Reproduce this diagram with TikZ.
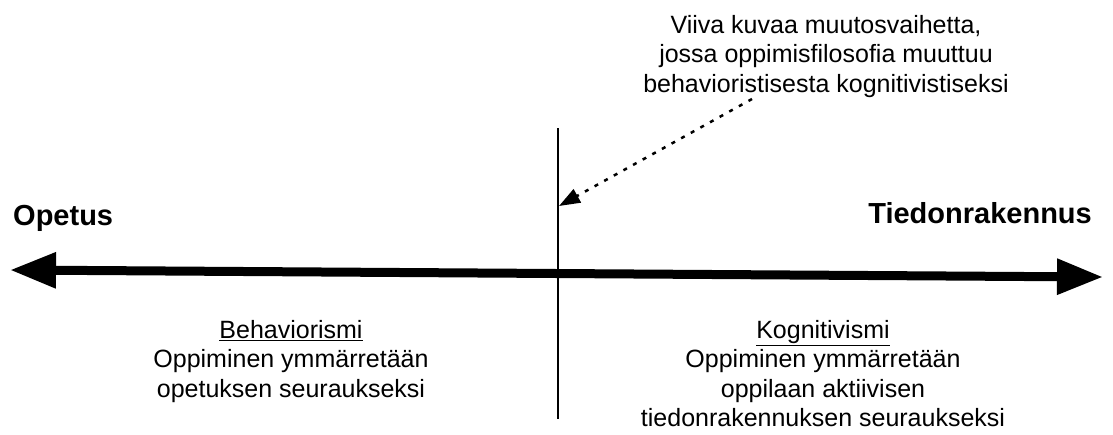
\documentclass[tikz,border=0pt]{standalone}
\usepackage{fontspec}
\setmainfont{Liberation Sans}
\usetikzlibrary{arrows.meta}
\begin{document}
\begin{tikzpicture}[x=1pt,y=-1pt,
  txt/.style={font=\fontsize{25}{29.5}\selectfont, align=center, inner sep=0pt},
  big/.style={font=\bfseries\fontsize{29}{34}\selectfont, inner sep=0pt},
  axis/.style={line width=9pt, {Triangle[length=46pt,width=34pt]}-{Triangle[length=46pt,width=34pt]}},
  divider/.style={line width=2pt},
  pointer/.style={line width=2.5pt, dash pattern=on 4pt off 7pt, -{Triangle[length=21pt,width=15pt]}}]
\useasboundingbox (0,0) rectangle (1113,434);
\coordinate (L) at (10,270);
\coordinate (R) at (1103,277);
\draw[axis] (L) -- (R);
\coordinate (vtop) at (558,128);
\coordinate (vbot) at (558,419);
\draw[divider] (vtop) -- (vbot);
\node[big, anchor=base west] (op) at (13,225) {Opetus};
\node[big, anchor=base east] (td) at (1092,223) {Tiedonrakennus};
\node[txt, anchor=north] (note) at (826,15) {Viiva kuvaa muutosvaihetta,\\ jossa oppimisfilosofia muuttuu\\ behavioristisesta kognitivistiseksi};
\coordinate (ptr) at (559,206);
\coordinate (ps) at (752,99);
\draw[pointer] (ps) -- (ptr);
\node[txt, anchor=north] (beh) at (291,320) {\underline{Behaviorismi}\\ Oppiminen ymmärretään\\ opetuksen seuraukseksi};
\node[txt, anchor=north] (kog) at (823,320) {\underline{Kognitivismi}\\ Oppiminen ymmärretään\\ oppilaan aktiivisen\\ tiedonrakennuksen seuraukseksi};
\end{tikzpicture}
\end{document}
